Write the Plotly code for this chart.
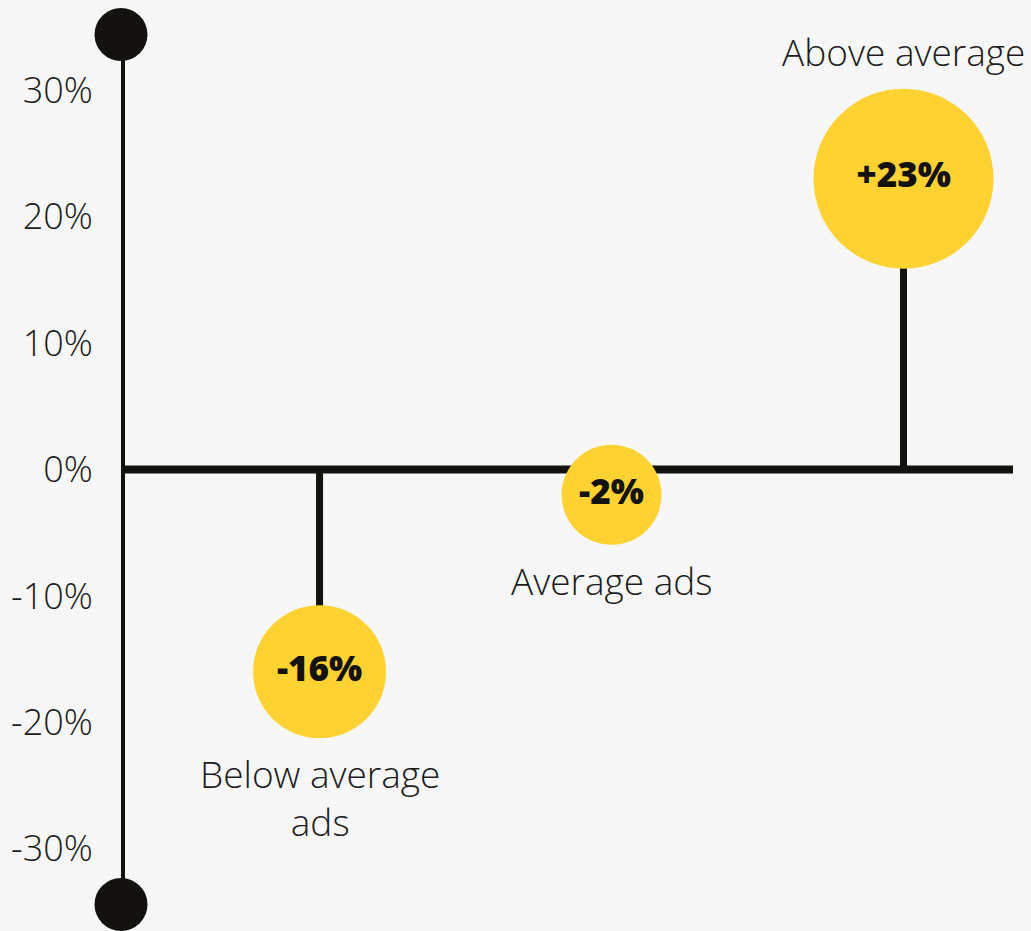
import plotly.graph_objects as go

# Ad performance relative to the average
categories = ["Below average<br>ads", "Average ads", "Above average"]
values = [-16, -2, 23]
value_labels = ["-16%", "-2%", "+23%"]
bubble_sizes = [133, 100, 180]

tick_values = [-30, -20, -10, 0, 10, 20, 30]
tick_labels = ["-30%", "-20%", "-10%", "0%", "10%", "20%", "30%"]

INK = "#14120e"
YELLOW = "#fed233"
BG = "#f7f7f7"
FONT = "Open Sans"

X_RANGE = [-0.680, 2.375]
Y_RANGE = [-35, 35]
AXIS_END = 34.4

xs = list(range(len(values)))

fig = go.Figure()

# vertical axis with round caps
fig.add_trace(go.Scatter(
    x=[X_RANGE[0], X_RANGE[0]], y=[-AXIS_END, AXIS_END],
    mode="lines+markers",
    line=dict(color=INK, width=8),
    marker=dict(color=INK, size=53),
    cliponaxis=False, hoverinfo="skip", showlegend=False,
))

# zero baseline
fig.add_trace(go.Scatter(
    x=[X_RANGE[0], X_RANGE[1]], y=[0, 0],
    mode="lines",
    line=dict(color=INK, width=8),
    cliponaxis=False, hoverinfo="skip", showlegend=False,
))

# stems
for x, v in zip(xs, values):
    fig.add_trace(go.Scatter(
        x=[x, x], y=[0, v],
        mode="lines",
        line=dict(color=INK, width=7),
        hoverinfo="skip", showlegend=False,
    ))

# bubbles with value labels
fig.add_trace(go.Scatter(
    x=xs, y=values,
    mode="markers+text",
    marker=dict(color=YELLOW, size=bubble_sizes, line=dict(width=0), opacity=1),
    text=value_labels,
    textposition="middle center",
    textfont=dict(family=FONT, size=35, color=INK, weight=800),
    cliponaxis=False, hoverinfo="skip", showlegend=False,
))

# category captions
for x, v, name, s in zip(xs, values, categories, bubble_sizes):
    above = v > 0
    fig.add_annotation(
        x=x, y=v, text=name, showarrow=False,
        yanchor="bottom" if above else "top",
        yshift=(s / 2 + 10) if above else -(s / 2 + 8),
        font=dict(family=FONT, size=37, color="#1c1c1c", weight=300),
        align="center",
    )

fig.update_layout(
    width=1031, height=931,
    margin=dict(l=121, r=18, t=27, b=19),
    paper_bgcolor=BG, plot_bgcolor=BG,
    xaxis=dict(range=X_RANGE, visible=False, showgrid=False, zeroline=False),
    yaxis=dict(
        range=Y_RANGE, showgrid=False, zeroline=False, showline=False,
        tickvals=tick_values, ticktext=tick_labels,
        ticks="outside", ticklen=20, tickcolor="rgba(0,0,0,0)",
        tickfont=dict(family=FONT, size=36, color="#1c1c1c", weight=300),
    ),
)

fig.write_html("out.html")
